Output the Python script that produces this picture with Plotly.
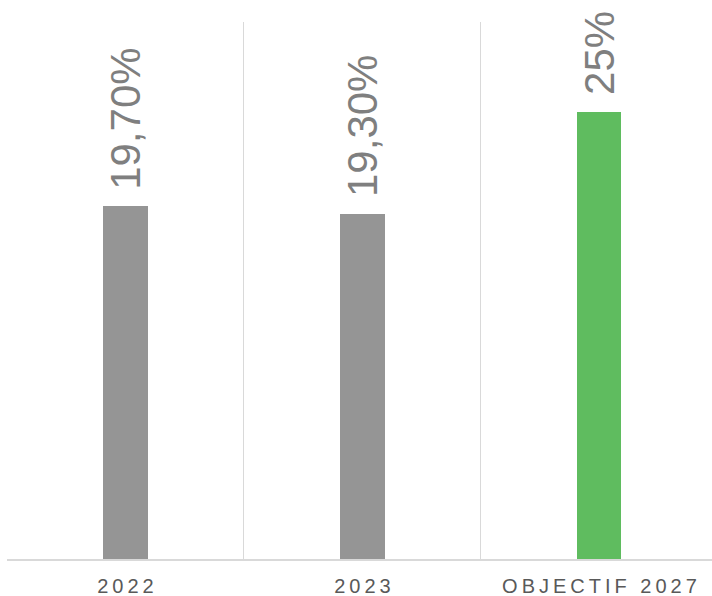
import plotly.graph_objects as go

categories = ["2022", "2023", "OBJECTIF 2027"]
values = [19.7, 19.3, 25.0]
value_labels = ["19,70%", "19,30%", "25%"]
bar_colors = ["#959595", "#959595", "#5FBC5F"]

SP = "\u2009"
tick_text = [SP.join(list(c)) for c in categories]

fig = go.Figure()
fig.add_trace(go.Bar(
    x=categories,
    y=values,
    marker=dict(color=bar_colors, line=dict(width=0)),
    width=0.186,
    hoverinfo="skip",
))

for i, (v, t) in enumerate(zip(values, value_labels)):
    fig.add_annotation(
        x=i, y=v, xref="x", yref="y",
        text=t, showarrow=False, textangle=-90,
        yanchor="bottom", xanchor="center", yshift=15,
        font=dict(family="Liberation Sans, Arial", size=42, color="#7F7F7F"),
    )

fig.update_layout(
    width=712, height=596,
    margin=dict(l=7, r=0, t=22, b=37),
    plot_bgcolor="white", paper_bgcolor="white",
    showlegend=False,
    bargap=0,
    xaxis=dict(
        type="category",
        range=[-0.5, 2.475],
        tickson="boundaries",
        showgrid=True, gridcolor="#D9D9D9", gridwidth=1,
        showline=True, linecolor="#D9D9D9", linewidth=1.5,
        ticks="", tickvals=categories, ticktext=tick_text,
        tickfont=dict(family="Liberation Sans, Arial", size=20, color="#595959"),
        ticklabelstandoff=8,
        fixedrange=True,
    ),
    yaxis=dict(
        range=[0, 30], visible=False, showgrid=False, zeroline=False,
        fixedrange=True,
    ),
)

fig.write_html(
    "out.html",
    config={"displayModeBar": False},
    post_script="document.body.style.margin='0';document.body.style.overflow='hidden';",
)
